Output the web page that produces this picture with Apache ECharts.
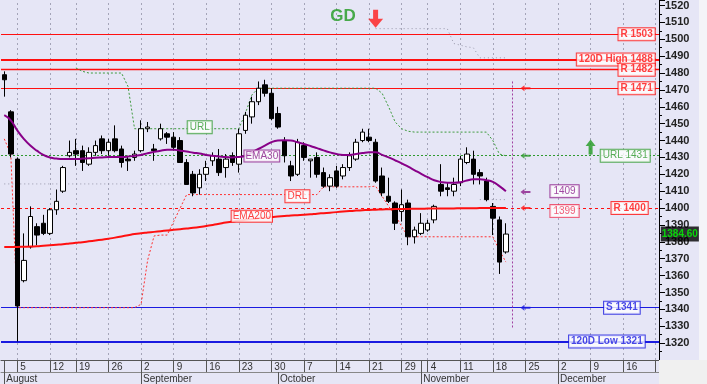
<!DOCTYPE html>
<html>
<head>
<meta charset="utf-8">
<script src="https://cdn.jsdelivr.net/npm/echarts@6/dist/echarts.min.js"></script>
<style>
html,body{margin:0;padding:0;background:#e6e6f6;}
#c{width:707px;height:384px;}
</style>
</head>
<body>
<div id="c"></div>
<script>
// ---------- DATA ----------
const firstDay = '2019-08-01';
const lastDay = '2019-12-23';
const holidays = ['2019-08-15', '2019-10-28'];

// [open, close, low, high] per trading day from 2019-08-01
const candles = [
  [1479,1476,1466,1481],[1457,1432,1430,1458],[1429,1342,1321,1430],[1357,1369,1356,1385],
  [1377,1395,1376,1401],[1389,1384,1378,1391],[1391,1385,1384,1396],[1385,1399,1384,1400],
  [1399,1404,1396,1411],[1410,1424,1409,1425],[1431,1433,1430,1440],[1434,1432,1425,1441],
  [1434,1427,1422,1437],[1426,1433,1425,1436],[1433,1437,1431,1440],[1441,1434,1432,1443],
  [1434,1439,1431,1441],[1441,1434,1433,1449],[1435,1427,1424,1437],[1429,1428,1422,1431],
  [1430,1432,1428,1434],[1434,1447,1433,1452],[1447,1448,1445,1451],[1435,1434,1428,1438],
  [1441,1447,1440,1450],[1444,1442,1438,1445],[1442,1436,1434,1445],[1440,1427,1427,1442],
  [1427,1414,1414,1429],[1420,1409,1407,1422],[1412,1420,1408,1423],[1420,1424,1416,1428],
  [1428,1431,1425,1433],[1429,1421,1419,1435],[1424,1429,1418,1432],[1431,1427,1425,1433],
  [1426,1444,1421,1447],[1446,1455,1444,1457],[1454,1463,1450,1466],[1463,1471,1461,1475],
  [1473,1468,1466,1476],[1468,1453,1452,1471],[1456,1448,1447,1460],[1440,1431,1427,1442],
  [1425,1419,1416,1428],[1420,1439,1419,1441],[1437,1430,1428,1439],[1428,1429,1418,1429],
  [1430,1420,1418,1433],[1421,1413,1412,1424],[1413,1418,1410,1420],[1422,1413,1412,1425],
  [1419,1424,1417,1426],[1424,1431,1422,1433],[1429,1439,1428,1441],[1440,1445,1439,1447],
  [1442,1440,1439,1447],[1439,1416,1415,1441],[1419,1409,1407,1424],[1407,1404,1403,1418],
  [1403,1391,1387,1404],[1398,1402,1392,1411],[1403,1383,1378,1405],[1383,1387,1379,1389],
  [1385,1391,1384,1397],[1387,1391,1386,1393],[1393,1401,1391,1402],[1414,1410,1407,1426],
  [1412,1411,1407,1415],[1410,1414,1407,1418],[1415,1429,1413,1431],[1427,1432,1426,1436],
  [1429,1420,1414,1434],[1421,1419,1414,1423],[1416,1405,1404,1418],[1401,1394,1384,1403],
  [1393,1368,1361,1395],[1374,1384.6,1373,1391]
];

const ema30 = [
  1455,1452,1446,1441,1437,1434,1431.5,1430,1429.3,1429,
  1429,1429,1429.3,1429.5,1429.8,1430,1430.2,1430.3,1430.3,1430.5,
  1431,1431.5,1432.5,1433.3,1434,1434.5,1434.6,1434,1433.5,1432.8,
  1432.3,1431.5,1431,1430.5,1430.2,1430,1430.3,1431,1433,1435,
  1437,1439,1440,1440.2,1440,1439,1438,1436.8,1435.5,1434.2,
  1433,1432,1431.5,1431.5,1432,1432.6,1433,1433,1431.5,1430,
  1428.3,1426.5,1424.5,1422.4,1420.3,1418.3,1416.5,1415.5,1415,1415,
  1415.3,1416.3,1417,1417,1416.5,1415.5,1413,1410
];

const ema200 = [
  1377.0,1377.0,1377.0,1377.1,1377.2,1377.4,1377.7,1378.0,1378.3,1378.6,
  1379.0,1379.4,1379.8,1380.3,1380.8,1381.3,1381.8,1382.5,1383.2,1383.9,
  1384.6,1385.1,1385.5,1385.9,1386.3,1386.7,1387.1,1387.5,1387.9,1388.3,
  1388.8,1389.4,1390.0,1390.7,1391.4,1392.0,1392.6,1393.1,1393.5,1393.9,
  1394.3,1394.7,1395.0,1395.3,1395.6,1395.8,1396.0,1396.3,1396.7,1397.0,
  1397.3,1397.6,1397.9,1398.2,1398.5,1398.7,1398.9,1399.0,1399.2,1399.3,
  1399.4,1399.5,1399.5,1399.6,1399.6,1399.7,1399.7,1399.8,1399.8,1399.8,
  1399.9,1399.9,1399.9,1400.0,1400.0,1400.0,1400.0,1400.0
];

// URL (upper line) starts at index 11
const urlStart = 11;
const urlVals = [
  1483,1481,1480,1480,1480,1480,1480,1480,1472,1447,
  1447,1447,1447,1447,1447,1447,1447,1447,1447,1447,
  1447,1447,1447,1447,1447,1447,1456,1467,1471,1471,
  1471,1471,1471,1471,1471,1471,1471,1471,1471,1471,
  1471,1471,1471,1471,1471,1471,1471,1468,1460,1451,
  1447,1445.5,1445,1445,1445,1445,1445,1445,1445,1445,
  1445,1445,1445,1445,1440,1432,1431
];

// DRL (lower line) from index 0
const drlVals = [
  1441,1432,1341,1341,1341,1341,1341,1341,1341,1341,
  1341,1341,1341,1341,1341,1341,1341,1341,1341,1341,
  1341,1343,1369,1383.5,1384,1384,1392,1400,1408,1408,
  1408,1408,1408,1408,1408,1408,1408,1408,1408,1408,
  1408,1408,1408,1408,1408,1408,1408,1408,1408,1412.6,
  1412.6,1412.6,1412.6,1412.6,1412.6,1412.6,1412.6,1413,1407,1401,
  1396,1389,1383,1383,1383,1383,1383,1383,1383,1383,
  1383,1383,1383,1383,1383,1383,1375,1368
];

// faint grey helper lines: [startIndex, values]
const greyHigh = [57, [1506.3,1506.3,1506.3,1506.3,1506.3,1506.3,1506.3,1506.3,1506.3,1506.3,1506.3,1506.3,1497.5,1496.5,1495.5,1495,1489,1489,1489,1489,1489]];
const greyMid = [0, [1414.3,1414.3,1414.3,1414.3,1414.3,1414.3,1414.3,1414.3,1414.3,1414.3,1414.3,1414.3,1414.3,1414.3,1414.3,1414.3,1414.3,1414.3,1414.3,1414.3,1414.3,1414.3,1414.3,1414.3,1414.3,1414.3,1414.3,1414.3,1414.3,1414.3,1414.3,1414.3,1414.3,1414.3,1414.3,1414.3,1414.3,1414.3,1414.3,1414.3]];
const greyLow = [73, [1405,1405,1405,1405,1405]];

// horizontal levels
const levelValues = [1503, 1488, 1482, 1471, 1431, 1400, 1341, 1321];
const levelNames = ['R 1503', '120D High 1488', 'R 1482', 'R 1471', 'URL 1431', 'R 1400', 'S 1341', '120D Low 1321'];

// axis labels
const weekStarts = ['2019-08-05','2019-08-12','2019-08-19','2019-08-26','2019-09-02','2019-09-09',
  '2019-09-16','2019-09-23','2019-09-30','2019-10-07','2019-10-14','2019-10-21','2019-10-29',
  '2019-11-04','2019-11-11','2019-11-18','2019-11-25','2019-12-02','2019-12-09','2019-12-16','2019-12-23'];
const dayLabels = ['5','12','19','26','2','9','16','23','30','7','14','21','29','4','11','18','25','2','9','16',''];
const monthStarts = ['2019-08-01','2019-09-02','2019-10-01','2019-11-01','2019-12-02'];
const monthNames = ['August','September','October','November','December'];

const yTicks = {min: 1310, max: 1523, step: 10};
const lastPrice = 1384.60;
const emaEnd = {ema30: 1409, ema200: 1399};

// ---------- BUILD ----------
const cats = [];
(function () {
  let d = new Date(firstDay + 'T00:00:00Z');
  const end = new Date(lastDay + 'T00:00:00Z');
  while (d <= end) {
    const w = d.getUTCDay();
    const s = d.toISOString().slice(0, 10);
    if (w > 0 && w < 6 && holidays.indexOf(s) < 0) cats.push(s);
    d = new Date(d.getTime() + 86400000);
  }
})();
const N = cats.length;
const lastCat = cats[N - 1];

function padded(start, vals) {
  const out = [];
  for (let i = 0; i < start; i++) out.push(null);
  return out.concat(vals);
}

const dayLabelMap = {};
weekStarts.forEach((d, i) => dayLabelMap[d] = dayLabels[i]);
const dayTickSet = new Set(weekStarts.concat(['2019-08-01', '2019-11-01']));
const monthMap = {};
monthStarts.forEach((d, i) => monthMap[d] = monthNames[i]);

const RED = '#ff1010', GREEN = '#2f9a2f', PURPLE = '#8a1a8a', BLUE = '#1a1ae0';
const FONT = 'Liberation Sans, Arial, sans-serif';

function boxLabel(text, color, opts) {
  return Object.assign({
    show: true, formatter: text, color: color, backgroundColor: '#ffffff',
    borderColor: color, borderWidth: 1, padding: [1, 2, 0, 2],
    fontSize: 10, fontFamily: FONT, lineHeight: 11
  }, opts || {});
}

const levelColor = [RED, RED, RED, RED, GREEN, RED, BLUE, BLUE];
const levelWidth = [1, 2, 1.3, 1, 1, 1, 1, 2];
const levelType = ['solid', 'solid', 'solid', 'solid', [2, 2], [3, 3], 'solid', 'solid'];
const levelDist = [1, 1, 1, 1, 6, 8, 16, 11];
const levelBold = [true, true, true, true, false, true, true, true];

const levelLines = levelValues.map((v, i) => ({
  yAxis: v,
  lineStyle: {color: levelColor[i], width: levelWidth[i], type: levelType[i]}
}));
const weekLines = weekStarts.map(d => ({
  xAxis: d, lineStyle: {color: '#a4a4b8', width: 1, type: [2, 3]}
}));
const vline = [[{coord: [cats[78], 1475]}, {coord: [cats[78], 1329]}]];

const levelLabelData = levelValues.map((v, i) => ({
  value: [lastCat, v],
  label: boxLabel(levelNames[i], levelColor[i], {
    position: 'left', distance: levelDist[i], fontWeight: levelBold[i] ? 'bold' : 'normal'
  })
}));

const inlineLabelData = [
  {value: [cats[30], 1447.9], label: boxLabel('URL', GREEN, {position: 'inside', padding: [1, 2, 0, 2]})},
  {value: [cats[40], 1430.9], label: boxLabel('EMA30', PURPLE, {position: 'inside', offset: [-3, 0], padding: [0, 1, 0, 1]})},
  {value: [cats[45], 1407], label: boxLabel('DRL', RED, {position: 'inside', padding: [1, 2, 0, 2]})},
  {value: [cats[38], 1395.2], label: boxLabel('EMA200', RED, {position: 'inside', padding: [0, 1, 0, 1]})},
  {value: [cats[86], 1410], label: boxLabel(String(emaEnd.ema30), PURPLE, {position: 'inside', padding: [1, 3, 0, 3]})},
  {value: [cats[86], 1398.2], label: boxLabel(String(emaEnd.ema200), '#ee3355', {position: 'inside', padding: [1, 3, 0, 3]})},
  {value: [lastCat, lastPrice], label: {
    show: true, position: 'right', distance: 5, formatter: lastPrice.toFixed(2),
    color: '#00ff00', backgroundColor: '#000000', padding: [2, 1, 1, 1],
    fontSize: 10, fontWeight: 'bold', fontFamily: FONT, lineHeight: 12
  }},
  {value: [cats[52], 1513.5], label: {
    show: true, position: 'inside', formatter: 'GD', color: '#1f9a1f',
    fontSize: 17, fontWeight: 'bold', fontFamily: FONT
  }}
];

const LEFT = 'path://M0,3 L4,0 L4,2 L10,2 L10,4 L4,4 L4,6 Z';
const UP = 'path://M5,0 L10,6 L7,6 L7,14 L3,14 L3,6 L0,6 Z';
const DOWN = 'path://M5,0 L10,0 L10,9 L15,9 L7.5,18 L0,9 L5,9 Z';
const arrowData = [
  {value: [cats[80], 1471], symbol: LEFT, symbolSize: [10, 6], itemStyle: {color: RED}},
  {value: [cats[80], 1431], symbol: LEFT, symbolSize: [10, 6], itemStyle: {color: GREEN}},
  {value: [cats[80], 1409.5], symbol: LEFT, symbolSize: [10, 6], itemStyle: {color: PURPLE}},
  {value: [cats[80], 1400], symbol: LEFT, symbolSize: [10, 6], itemStyle: {color: RED}},
  {value: [cats[80], 1341], symbol: LEFT, symbolSize: [10, 6], itemStyle: {color: BLUE}},
  {value: [cats[90], 1436.2], symbol: UP, symbolSize: [10, 15], itemStyle: {color: '#1f9a1f'}},
  {value: [cats[57], 1512.2], symbol: DOWN, symbolSize: [15, 18], itemStyle: {color: '#ff1a1a'}}
];

const greyStyle = {color: '#9898aa', width: 1, type: [1, 3]};
function greySeries(g) {
  return {type: 'line', data: padded(g[0], g[1]), symbol: 'none', silent: true,
    lineStyle: greyStyle, z: 2, animation: false};
}

const chart = echarts.init(document.getElementById('c'), null, {renderer: 'canvas'});
chart.setOption({
  animation: false,
  backgroundColor: '#e6e6f6',
  grid: {left: 1, right: 48, top: 0, bottom: 24, containLabel: false},
  graphic: [
    {type: 'rect', shape: {x: 659, y: 360, width: 48, height: 24}, style: {fill: '#f0f0f0'}, z: 100},
    {type: 'rect', shape: {x: 699, y: 0, width: 8, height: 360}, style: {fill: '#f4f4f8'}, z: -1}
  ],
  xAxis: [
    {
      type: 'category', data: cats, boundaryGap: true, position: 'bottom',
      axisLine: {show: true, lineStyle: {color: '#555', width: 1}},
      axisTick: {show: true, alignWithLabel: true, length: 12,
        interval: (i, v) => dayTickSet.has(v), lineStyle: {color: '#555'}},
      axisLabel: {show: true, interval: (i, v) => v in dayLabelMap,
        formatter: v => dayLabelMap[v] || '', align: 'left', padding: [0, 0, 0, 3],
        margin: 2, fontSize: 10, color: '#333', fontFamily: FONT},
      splitLine: {show: false}
    },
    {
      type: 'category', data: cats, boundaryGap: true, position: 'bottom', offset: 12,
      axisLine: {show: true, lineStyle: {color: '#888', width: 1}},
      axisTick: {show: true, alignWithLabel: true, length: 12,
        interval: (i, v) => v in monthMap, lineStyle: {color: '#555'}},
      axisLabel: {show: true, interval: (i, v) => v in monthMap,
        formatter: v => monthMap[v] || '', align: 'left', padding: [0, 0, 0, 2],
        margin: 2, fontSize: 10, color: '#333', fontFamily: FONT},
      splitLine: {show: false}
    }
  ],
  yAxis: {
    type: 'value', position: 'right', min: yTicks.min, max: yTicks.max, interval: yTicks.step,
    axisLine: {show: true, lineStyle: {color: '#000', width: 1}},
    axisTick: {show: true, length: 6, lineStyle: {color: '#000'}},
    minorTick: {show: true, splitNumber: 2, length: 3, lineStyle: {color: '#000'}},
    axisLabel: {show: true, showMinLabel: false, showMaxLabel: false, margin: 6,
      formatter: v => String(v),
      fontSize: 11, fontWeight: 'bold', color: '#222', fontFamily: FONT},
    splitLine: {show: false}
  },
  series: [
    {
      name: 'levels', type: 'line', data: cats.map(() => null), symbol: 'none', silent: true, z: 1,
      markLine: {silent: true, z: 1, symbol: ['none', 'none'], label: {show: false}, animation: false,
        data: weekLines.concat(levelLines).concat(vline.map(p => [
          Object.assign({}, p[0], {lineStyle: {color: '#a040a0', width: 1, type: [2, 2]}}), p[1]
        ]))}
    },
    greySeries(greyHigh), greySeries(greyMid), greySeries(greyLow),
    {
      name: 'URL', type: 'line', data: padded(urlStart, urlVals), symbol: 'none', silent: true, z: 3,
      lineStyle: {color: '#3c9a3c', width: 1, type: [2, 2]}
    },
    {
      name: 'DRL', type: 'line', data: drlVals, symbol: 'none', silent: true, z: 3,
      lineStyle: {color: '#ff3030', width: 1, type: [2, 2]}
    },
    {
      name: 'price', type: 'candlestick', data: candles.map(c => [c[0], c[1], c[2], c[3]]), z: 4,
      barWidth: 5,
      itemStyle: {color: '#ffffff', color0: '#000000', borderColor: '#000000', borderColor0: '#000000', borderWidth: 1}
    },
    {
      name: 'EMA30', type: 'line', data: ema30, symbol: 'none', smooth: true, silent: true, z: 5,
      lineStyle: {color: '#880088', width: 2}
    },
    {
      name: 'EMA200', type: 'line', data: ema200, symbol: 'none', smooth: true, silent: true, z: 5,
      lineStyle: {color: '#ff1010', width: 2}
    },
    {
      name: 'arrows', type: 'scatter', data: arrowData, silent: true, z: 6, clip: false
    },
    {
      name: 'levelLabels', type: 'scatter', data: levelLabelData, symbolSize: 0, silent: true, z: 7, clip: false
    },
    {
      name: 'inlineLabels', type: 'scatter', data: inlineLabelData, symbolSize: 0, silent: true, z: 7, clip: false
    }
  ]
});
</script>
</body>
</html>
